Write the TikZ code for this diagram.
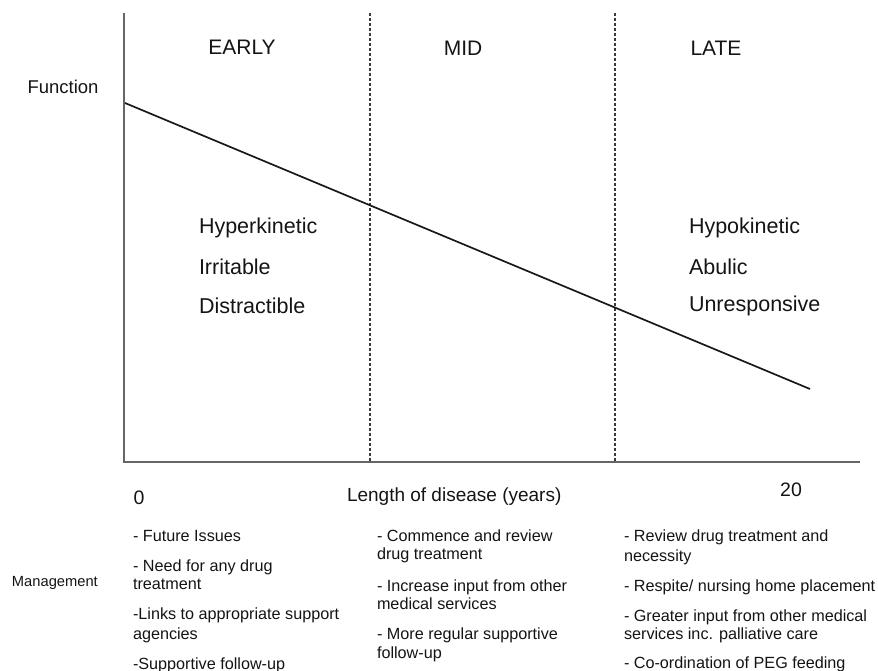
\documentclass[tikz,border=0pt]{standalone}
\usepackage{fontspec}
\setmainfont{Liberation Sans}
\definecolor{axisgray}{HTML}{666666}
\definecolor{dashgray}{HTML}{3A3A3A}
\definecolor{ink}{HTML}{141414}
\begin{document}
\begin{tikzpicture}[x=1pt,y=-1pt,
  every node/.style={inner sep=0pt,outer sep=0pt,text=ink},
  stage/.style={font=\fontsize{21}{25}\selectfont,anchor=center},
  trait/.style={font=\fontsize{21.5}{25}\selectfont,anchor=west},
  ticklab/.style={font=\fontsize{19.5}{23}\selectfont,anchor=center},
  mg/.style={font=\fontsize{16.2}{19}\selectfont,anchor=base west},
  axisline/.style={draw=axisgray,line width=1.6pt},
  divider/.style={draw=dashgray,line width=1.2pt,dash pattern=on 3pt off 2pt},
  trend/.style={draw=black!90,line width=1.7pt}]
\useasboundingbox (0,0) rectangle (878,671);

% axes
\coordinate (ytop) at (124,13);
\coordinate (origin) at (124,462);
\coordinate (xend) at (860,462);
\draw[axisline] (ytop) -- (origin) -- (xend);

% dividers
\coordinate (d1t) at (370,13);
\coordinate (d1b) at (370,461);
\coordinate (d2t) at (615,13);
\coordinate (d2b) at (615,461);
\draw[divider] (d1t) -- (d1b);
\draw[divider] (d2t) -- (d2b);

% trend line
\coordinate (fstart) at (125,103);
\coordinate (fend) at (810,389);
\draw[trend] (fstart) -- (fend);

% stage labels
\node[stage] (early) at (242,47) {EARLY};
\node[stage] (mid) at (463,48) {MID};
\node[stage] (late) at (716,48) {LATE};

\node[font=\fontsize{18.5}{22}\selectfont,anchor=center] (func) at (63,87) {Function};

% traits
\node[trait] (t1) at (199,228) {Hyperkinetic};
\node[trait] (t2) at (199,267) {Irritable};
\node[trait] (t3) at (199,306) {Distractible};
\node[trait] (t4) at (689,228) {Hypokinetic};
\node[trait] (t5) at (689,267) {Abulic};
\node[trait] (t6) at (689,306) {Unresponsive};

% x-axis labels
\node[ticklab] (zero) at (139,498) {0};
\node[font=\fontsize{19}{23}\selectfont,anchor=west] (xlab) at (347,497) {Length of disease (years)};
\node[ticklab] (twenty) at (791,490) {20};

% management
\node[font=\fontsize{14.7}{18}\selectfont,anchor=west] (mgmt) at (12,583) {Management};

% left column
\node[mg] (l1) at (133,541) {- Future Issues};
\node[mg] (l2) at (133,571) {- Need for any drug};
\node[mg] (l3) at (133,589) {treatment};
\node[mg] (l4) at (133,619) {-Links to appropriate support};
\node[mg] (l5) at (133,639) {agencies};
\node[mg] (l6) at (133,669) {-Supportive follow-up};

% middle column
\node[mg] (m1) at (377,541) {- Commence and review};
\node[mg] (m2) at (377,559) {drug treatment};
\node[mg] (m3) at (377,591) {- Increase input from other};
\node[mg] (m4) at (377,609) {medical services};
\node[mg] (m5) at (377,639) {- More regular supportive};
\node[mg] (m6) at (377,658) {follow-up};

% right column
\node[mg] (r1) at (624,541) {- Review drug treatment and};
\node[mg] (r2) at (624,561) {necessity};
\node[mg] (r3) at (624,591) {- Respite/ nursing home placement};
\node[mg] (r4) at (624,621) {- Greater input from other medical};
\node[mg] (r5) at (624,639) {services inc. palliative care};
\node[mg] (r6) at (624,668) {- Co-ordination of PEG feeding};
\end{tikzpicture}
\end{document}
